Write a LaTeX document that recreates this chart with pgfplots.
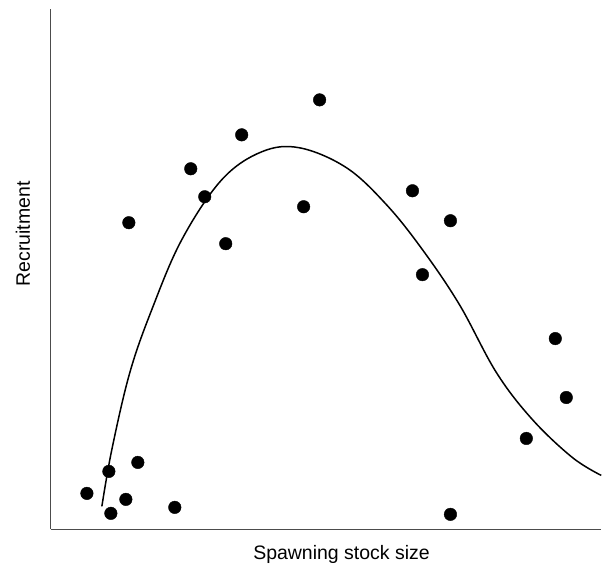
\documentclass[border=0pt]{standalone}
\usepackage{pgfplots}
\pgfplotsset{compat=1.18}
\usepackage{fontspec}
\setmainfont{Liberation Sans}
\begin{document}
\begin{tikzpicture}[x=1pt,y=1pt]
\begin{axis}[
  scale only axis, width=551pt, height=521pt,
  xmin=0, xmax=551, ymin=0, ymax=521,
  axis x line=bottom, axis y line=left,
  axis line style={-, line width=0.9pt, black!70},
  xtick=\empty, ytick=\empty,
  xlabel={Spawning stock size}, ylabel={Recruitment},
  label style={font=\fontsize{19.5}{22}\selectfont},
  xlabel style={at={(rel axis cs:0.528,0)}, anchor=center, yshift=-25pt},
  ylabel style={at={(rel axis cs:0,0.568)}, anchor=center, yshift=28pt},
  clip=false,
]
\addplot[only marks, mark=*, mark size=6.3pt, black] coordinates {
(36,36) (58,58) (60,16) (75,30) (87,67) (78,307) (124,22) (140,361)
(154,333) (175,286) (191,395) (253,323) (269,430) (362,339) (372,255)
(400,309) (400,15) (476,91) (505,191) (516,132)
};
\addplot[smooth, tension=0.6, line width=1.5pt, black] coordinates {
(51,23) (61,80) (79,157) (101,220) (131,290) (171,350) (211,378)
(249,382) (296,362) (336,325) (372,280) (409,225) (446,157) (482,110)
(522,72) (551,54)
};
\end{axis}
\path[use as bounding box] (-51,-40) rectangle (551,530);
\end{tikzpicture}
\end{document}
